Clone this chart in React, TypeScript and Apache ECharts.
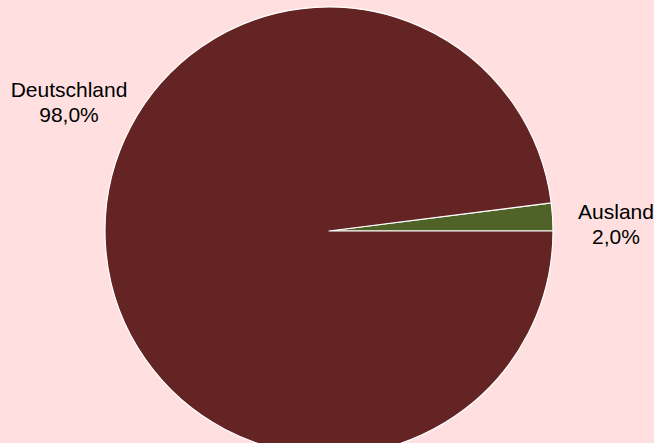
import React, { useEffect, useRef } from "react";
import * as echarts from "echarts";

const categories = ["Ausland", "Deutschland"];
const shares = [2.0, 98.0];
const colors = ["#4F6228", "#632423"];
const labelSpots = [
  [616, 224],
  [69, 102],
];

export default function App() {
  const ref = useRef<HTMLDivElement>(null);
  useEffect(() => {
    document.body.style.margin = "0";
    const chart = echarts.init(ref.current!, null, { renderer: "svg" });
    chart.setOption({
      animation: false,
      backgroundColor: "#FFDFDF",
      series: [
        {
          type: "pie",
          center: [329, 231],
          radius: 224,
          startAngle: 7.2,
          clockwise: true,
          data: categories.map((c, i) => ({
            name: c,
            value: shares[i],
            itemStyle: { color: colors[i] },
          })),
          itemStyle: { borderColor: "#ffffff", borderWidth: 1.2 },
          label: {
            show: true,
            position: "outside",
            color: "#000000",
            fontFamily: "Liberation Sans, Arial, sans-serif",
            fontSize: 21,
            lineHeight: 25,
            align: "center",
            overflow: "none",
            width: 170,
            formatter: (p: any) =>
              p.name + "\n" + Number(p.value).toFixed(1).replace(".", ",") + "%",
          },
          labelLine: { show: false },
          labelLayout: (p: any) => ({
            x: labelSpots[p.dataIndex][0],
            y: labelSpots[p.dataIndex][1],
            align: "center",
            verticalAlign: "middle",
            width: 170,
          }),
          emphasis: { disabled: true },
        },
      ],
    });
    return () => chart.dispose();
  }, []);
  return <div ref={ref} style={{ width: 654, height: 443 }} />;
}
